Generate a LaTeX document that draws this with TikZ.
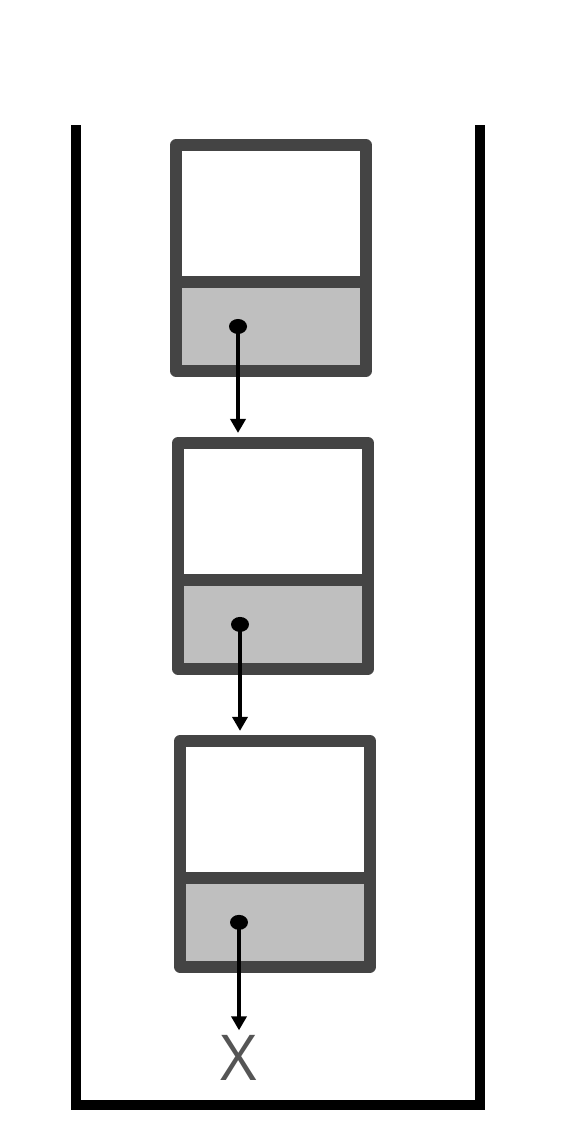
\documentclass[tikz,border=0pt]{standalone}
\usepackage{fontspec}
\newfontfamily\labelfont{Open Sans}
\definecolor{CadreGris}{HTML}{444444}
\definecolor{FondGris}{HTML}{BFBFBF}
\definecolor{CroixGris}{HTML}{555555}
\usetikzlibrary{positioning}
\usetikzlibrary{arrows.meta}
\begin{document}
\begin{tikzpicture}[x=0.02cm, y=-0.02cm,
	datapart/.style={draw=CadreGris, fill=white, line width=6.6pt, line join=round, rectangle, outer sep=0pt, minimum width=3.8cm, minimum height=2.74cm},
	nextpart/.style={draw=CadreGris, fill=FondGris, line width=6.6pt, line join=round, rectangle, outer sep=0pt, minimum width=3.8cm, minimum height=1.78cm},
	pointer/.style={line width=2.7pt, -{Triangle[length=0.28cm, width=0.3cm]}, shorten >=0.2cm},
	node distance=1.44cm and 1cm]
			\useasboundingbox (0,0) rectangle (568,1134);
			% Pile (ouverte en haut)
			\coordinate (hautG) at (76,125);
			\coordinate (basG) at (76,1105);
			\coordinate (basD) at (480,1105);
			\coordinate (hautD) at (480,125);
			\draw[line width=0.2cm] (hautG) -- (basG) -- (basD) -- (hautD);
			%
			% Premier maillon
			\node[datapart] (data1) at (271,213.5) {};
			\node[nextpart, below=0cm of data1] (next1) {};
			%
			% Deuxieme maillon
			\node[datapart, below=of next1, xshift=0.04cm] (data2) {};
			\node[nextpart, below=0cm of data2] (next2) {};
			%
			% Troisieme maillon
			\node[datapart, below=of next2, xshift=0.04cm] (data3) {};
			\node[nextpart, below=0cm of data3] (next3) {};
			%
			% Pointeurs
			\fill ([xshift=-0.66cm]next1.center) coordinate (ptr1) circle (0.18cm and 0.15cm);
			\fill ([xshift=-0.66cm]next2.center) coordinate (ptr2) circle (0.18cm and 0.15cm);
			\fill ([xshift=-0.72cm]next3.center) coordinate (ptr3) circle (0.18cm and 0.15cm);
			\draw[pointer] (ptr1) -- (ptr1 |- data2.north);
			\draw[pointer] (ptr2) -- (ptr2 |- data3.north);
			%
			% Fin de liste
			\node[below=2.26cm of ptr3, anchor=north, inner sep=0pt, text=CroixGris, font=\labelfont\fontsize{36}{36}\selectfont] (fin) {X};
			\draw[pointer, shorten >=0.1cm] (ptr3) -- (fin.north);
\end{tikzpicture}
\end{document}
